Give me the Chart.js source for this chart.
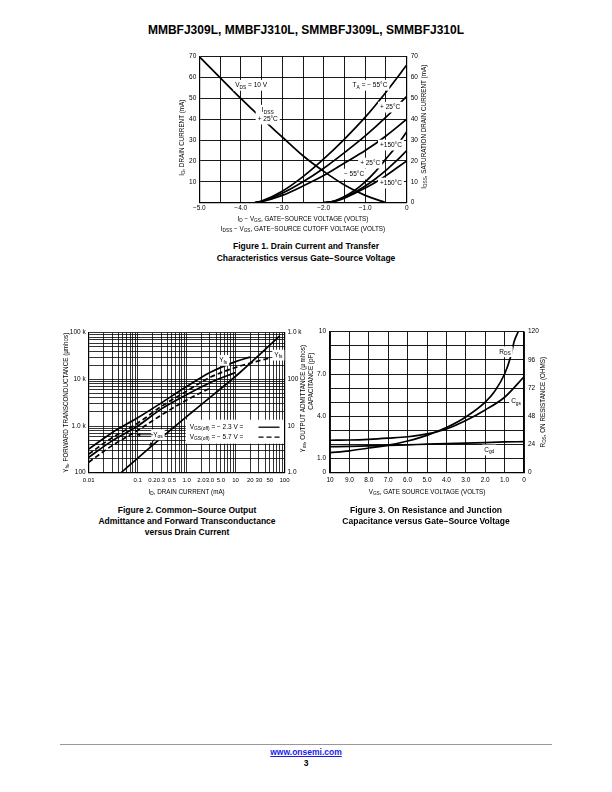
<!DOCTYPE html>
<html>
<head>
<meta charset="utf-8">
<title>MMBFJ309L page 3</title>
<script src="https://cdn.jsdelivr.net/npm/chart.js@4.4.1/dist/chart.umd.min.js"></script>
<style>
  body { margin: 0; background: #fff; }
  #page { position: relative; width: 612px; height: 792px; font-family: "Liberation Sans", Arial, sans-serif; color: #000; }
  canvas { position: absolute; }
  .txt { position: absolute; text-align: center; font-weight: bold; white-space: nowrap; }
</style>
</head>
<body>
<div id="page">
  <div class="txt" style="left:0;width:612px;top:23px;font-size:12px;">MMBFJ309L, MMBFJ310L, SMMBFJ309L, SMMBFJ310L</div>

  <canvas id="fig1" width="300" height="190" style="left:150px;top:48px"></canvas>
  <div class="txt" style="left:156px;width:300px;top:241px;font-size:8.5px;line-height:11.5px">Figure 1. Drain Current and Transfer<br>Characteristics versus Gate−Source Voltage</div>

  <canvas id="fig2" width="275" height="180" style="left:40px;top:322px"></canvas>
  <canvas id="fig3" width="264" height="180" style="left:296px;top:322px"></canvas>
  <div class="txt" style="left:37px;width:300px;top:505px;font-size:8.5px;line-height:11px">Figure 2. Common−Source Output<br>Admittance and Forward Transconductance<br>versus Drain Current</div>
  <div class="txt" style="left:276px;width:300px;top:505px;font-size:8.5px;line-height:11px">Figure 3. On Resistance and Junction<br>Capacitance versus Gate−Source Voltage</div>

  <div style="position:absolute;left:60px;width:492px;top:744px;border-top:1px solid #999"></div>
  <div class="txt" style="left:0;width:612px;top:747px;font-size:8.5px;color:#1a1aee;text-decoration:underline">www.onsemi.com</div>
  <div class="txt" style="left:0;width:612px;top:758px;font-size:8.5px">3</div>
</div>

<script>
// ---- Figure 1: drain current / transfer characteristics (mA vs V) ----
const vgs1   = [-3.66, -3.5, -3.0, -2.5, -2.0, -1.5, -1.0, -0.5, 0];
const idM55a = [0, 0.8, 5.5, 12.5, 21, 30.5, 41, 53, 66];
const id25a  = [0, 0.6, 4.5, 10, 16.5, 24, 32, 41, 51];
const id150a = [0, 0.5, 3.5, 8, 13, 19, 25, 32, 40];
const vgs2   = [-2.0, -1.75, -1.5, -1.25, -1.0, -0.75, -0.5, -0.25, 0];
const idM55b = [0, 0.8, 3, 6, 10, 15, 21, 27, 34];
const id25b  = [0, 0.7, 2.5, 5, 8, 11.5, 15.5, 20, 25];
const id150b = [0, 0.6, 2.2, 4.5, 7, 9.8, 13, 16.5, 20];
const vgsOff = [-5.0, -4.5, -4.0, -3.5, -3.0, -2.5, -2.0, -1.5, -1.0, -0.5];
const idss   = [70, 60, 50, 40.5, 31.5, 22.5, 15, 8.5, 3.5, 0];

// ---- Figure 2: Yfs / Yos vs drain current (log-log) ----
const idA  = [0.01, 0.03, 0.1, 0.3, 1, 3, 10, 20];
const yfsA = [320, 720, 1500, 3100, 7000, 14000, 24000, 30000];
const idB  = [0.01, 0.03, 0.1, 0.3, 1, 3, 10, 30, 50];
const yfsB = [250, 560, 1150, 2600, 5600, 11000, 18000, 25000, 28500];
const idC  = [0.01, 0.03, 0.1, 0.3, 1, 3, 10];
const yfsC = [213, 480, 1000, 2300, 4700, 8500, 14000];
const idD  = [0.01, 0.03, 0.1, 0.3, 1, 3];
const yosD = [1.68, 3.8, 8.0, 17, 36, 65];
const idE  = [0.046, 0.18, 1.3, 12, 80];
const yosE = [1.0, 3.5, 20, 137, 850];
const xTickVals2 = [0.01, 0.1, 0.2, 0.3, 0.5, 1, 2, 3, 5, 10, 20, 30, 50, 100];
const xTickText2 = ['0.01', '0.1', '0.2', '0.3', '0.5', '1.0', '2.0', '3.0', '5.0', '10', '20', '30', '50', '100'];
const yTickVals2 = [100, 1000, 10000, 100000];
const yTickText2 = ['100', '1.0 k', '10 k', '100 k'];
const y2TickVals2 = [1, 10, 100, 1000];
const y2TickText2 = ['1.0', '10', '100', '1.0 k'];

// ---- Figure 3: capacitance (pF) and RDS (ohms) vs VGS ----
const vgs3 = [10, 9, 8, 7, 6, 5, 4, 3, 2, 1, 0];
const cgs  = [2.3, 2.32, 2.37, 2.45, 2.55, 2.75, 3.1, 3.7, 4.45, 5.35, 6.8];
const cgd  = [1.85, 1.87, 1.9, 1.94, 1.98, 2.02, 2.06, 2.1, 2.14, 2.18, 2.2];
const vgsR = [10, 9, 8, 7, 6, 5, 4, 3, 2, 1.5, 1, 0.7, 0.5, 0.3];
const rds  = [17, 18.6, 21, 23.4, 27, 31.8, 38.4, 47.4, 60, 69.6, 84, 98, 112, 120];

const FAM = '"Liberation Sans", Arial, Helvetica, sans-serif';
Chart.defaults.font.family = FAM;
Chart.defaults.color = '#000';

// text with simple _{sub} markup
function pieces(str) {
  const out = [];
  const re = /_\{([^}]*)\}/g;
  let last = 0, m;
  while ((m = re.exec(str)) !== null) {
    if (m.index > last) out.push({ t: str.slice(last, m.index), sub: false });
    out.push({ t: m[1], sub: true });
    last = re.lastIndex;
  }
  if (last < str.length) out.push({ t: str.slice(last), sub: false });
  return out;
}
function fontOf(size, sub) { return (sub ? size * 0.75 : size) + 'px ' + FAM; }
function measure(ctx, str, size) {
  let w = 0;
  pieces(str).forEach(p => { ctx.font = fontOf(size, p.sub); w += ctx.measureText(p.t).width; });
  return w;
}
function rich(ctx, str, x, y, size, align) {
  const w = measure(ctx, str, size);
  let cx = align === 'center' ? x - w / 2 : align === 'right' ? x - w : x;
  ctx.textAlign = 'left';
  ctx.textBaseline = 'middle';
  pieces(str).forEach(p => {
    ctx.font = fontOf(size, p.sub);
    ctx.fillText(p.t, cx, p.sub ? y + size * 0.3 : y);
    cx += ctx.measureText(p.t).width;
  });
}
function rot(ctx, str, x, y, size) {
  ctx.save();
  ctx.translate(x, y);
  ctx.rotate(-Math.PI / 2);
  rich(ctx, str, 0, 0, size, 'center');
  ctx.restore();
}
function boxed(ctx, lines, x, y, size) {
  const lh = size * 1.35;
  let w = 0;
  lines.forEach(s => { w = Math.max(w, measure(ctx, s, size)); });
  const h = lh * lines.length;
  ctx.fillStyle = '#fff';
  ctx.fillRect(x - w / 2 - 2, y - h / 2 - 1, w + 4, h + 2);
  ctx.fillStyle = '#000';
  lines.forEach((s, i) => rich(ctx, s, x, y - h / 2 + lh * (i + 0.5), size, 'center'));
}
function arrow(ctx, x0, y0, x1, y1) {
  const a = Math.atan2(y1 - y0, x1 - x0);
  ctx.lineWidth = 0.8;
  ctx.beginPath(); ctx.moveTo(x0, y0); ctx.lineTo(x1, y1); ctx.stroke();
  ctx.beginPath();
  ctx.moveTo(x1, y1);
  ctx.lineTo(x1 - 4 * Math.cos(a - 0.4), y1 - 4 * Math.sin(a - 0.4));
  ctx.lineTo(x1 - 4 * Math.cos(a + 0.4), y1 - 4 * Math.sin(a + 0.4));
  ctx.closePath(); ctx.fill();
}
function textLayer(draw) {
  return {
    id: 'textLayer',
    afterDraw(chart) {
      const ctx = chart.ctx;
      ctx.save();
      ctx.fillStyle = '#000';
      ctx.strokeStyle = '#000';
      draw(chart, ctx);
      ctx.restore();
    }
  };
}

function line(xs, ys, dash, axis) {
  return {
    data: xs.map((x, i) => ({ x: x, y: ys[i] })),
    showLine: true,
    borderColor: '#000',
    borderWidth: 1.7,
    borderDash: dash ? [5, 3] : [],
    pointRadius: 0,
    fill: false,
    tension: 0.4,
    cubicInterpolationMode: 'monotone',
    yAxisID: axis || 'y'
  };
}
function fitY(w) { return s => { s.width = w; s.paddingTop = 0; s.paddingBottom = 0; }; }
function fitX(h) { return s => { s.height = h; s.paddingLeft = 0; s.paddingRight = 0; }; }
function setTicks(vals) { return s => { s.ticks = vals.map(v => ({ value: v })); }; }
function pick(vals, texts) {
  return v => {
    const i = vals.findIndex(t => Math.abs(t - v) < t * 1e-6 + 1e-12);
    return i >= 0 ? texts[i] : '';
  };
}
function decadeGrid(lo, hi) {
  const out = [];
  for (let e = lo; e < hi; e++) {
    for (let k = 1; k < 10; k++) out.push(Number((k * Math.pow(10, e)).toPrecision(3)));
  }
  out.push(Math.pow(10, hi));
  return out;
}

const GRID = { color: '#000', lineWidth: 0.9, drawTicks: false };
const BORDER = { color: '#000', width: 1.2 };
const TICKF = { size: 6.5 };
const base = {
  responsive: false,
  animation: false,
  devicePixelRatio: 1,
  plugins: { legend: { display: false }, tooltip: { enabled: false } }
};
const fmtV = v => (v === 0 ? '0' : v.toFixed(1).replace('-', '−'));

// ---------------- Figure 1 ----------------
new Chart(document.getElementById('fig1'), {
  type: 'scatter',
  data: {
    datasets: [
      line(vgs1, idM55a), line(vgs1, id25a), line(vgs1, id150a),
      line(vgs2, idM55b), line(vgs2, id25b), line(vgs2, id150b),
      line(vgsOff, idss, false, 'y2')
    ]
  },
  options: Object.assign({}, base, {
    layout: { padding: { top: 8.7, left: 0, right: 0, bottom: 0 } },
    scales: {
      x: {
        type: 'linear', min: -5, max: 0, grid: GRID, border: BORDER, afterFit: fitX(35.3),
        ticks: { stepSize: 0.5, padding: 2, font: TICKF, maxRotation: 0, autoSkip: false,
          callback: v => (Number.isInteger(v) ? fmtV(v) : '') }
      },
      y: {
        type: 'linear', position: 'left', min: 0, max: 70, grid: GRID, border: BORDER, afterFit: fitY(49.3),
        ticks: { stepSize: 10, padding: 3, font: TICKF, autoSkip: false, callback: v => (v === 0 ? '' : String(v)) }
      },
      y2: {
        type: 'linear', position: 'right', min: 0, max: 70,
        grid: { drawOnChartArea: false, drawTicks: false }, border: BORDER, afterFit: fitY(43.3),
        ticks: { stepSize: 10, padding: 4, font: TICKF, autoSkip: false, callback: v => String(v) }
      }
    }
  }),
  plugins: [textLayer((chart, ctx) => {
    const a = chart.chartArea, sx = chart.scales.x, sy = chart.scales.y;
    const px = v => sx.getPixelForValue(v), py = v => sy.getPixelForValue(v);
    const cy = (a.top + a.bottom) / 2, cx = (a.left + a.right) / 2;
    rot(ctx, 'I_{D}, DRAIN CURRENT (mA)', a.left - 17, cy + 8, 6.3);
    rot(ctx, 'I_{DSS}, SATURATION DRAIN CURRENT (mA)', a.right + 17.5, cy - 3, 6.3);
    rich(ctx, 'I_{D} − V_{GS}, GATE−SOURCE VOLTAGE (VOLTS)', cx, a.bottom + 16.6, 6.3, 'center');
    rich(ctx, 'I_{DSS} − V_{GS}, GATE−SOURCE CUTOFF VOLTAGE (VOLTS)', cx, a.bottom + 26.6, 6.3, 'center');
    boxed(ctx, ['V_{DS} = 10 V'], px(-3.75), py(56.3), 6.5);
    boxed(ctx, ['I_{DSS}', '+ 25°C'], px(-3.35), py(42.2), 6.5);
    boxed(ctx, ['T_{A} = − 55°C'], px(-0.885), py(56.3), 6.5);
    boxed(ctx, ['+ 25°C'], px(-0.4), py(45.8), 6.5);
    boxed(ctx, ['+150°C'], px(-0.38), py(27.6), 6.5);
    boxed(ctx, ['+ 25°C'], px(-0.88), py(19), 6.5);
    boxed(ctx, ['− 55°C'], px(-1.27), py(13.7), 6.5);
    boxed(ctx, ['+150°C'], px(-0.38), py(9.4), 6.5);
  })]
});

// ---------------- Figure 2 ----------------
new Chart(document.getElementById('fig2'), {
  type: 'scatter',
  data: {
    datasets: [
      line(idA, yfsA), line(idB, yfsB, true), line(idC, yfsC),
      line(idD, yosD, true, 'y2'), line(idE, yosE, false, 'y2')
    ]
  },
  options: Object.assign({}, base, {
    layout: { padding: { top: 10.7, left: 0, right: 0, bottom: 0 } },
    scales: {
      x: {
        type: 'logarithmic', min: 0.01, max: 100, grid: { color: '#000', lineWidth: 0.8, drawTicks: false },
        border: BORDER, afterFit: fitX(29.3), afterBuildTicks: setTicks(decadeGrid(-2, 2)),
        ticks: { padding: 4, font: { size: 6 }, maxRotation: 0, minRotation: 0, autoSkip: false, callback: pick(xTickVals2, xTickText2) }
      },
      y: {
        type: 'logarithmic', position: 'left', min: 100, max: 100000,
        grid: { color: '#000', lineWidth: 0.8, drawTicks: false }, border: BORDER,
        afterFit: fitY(48.7), afterBuildTicks: setTicks(decadeGrid(2, 5)),
        ticks: { padding: 3, font: TICKF, autoSkip: false, callback: pick(yTickVals2, yTickText2) }
      },
      y2: {
        type: 'logarithmic', position: 'right', min: 1, max: 1000,
        grid: { drawOnChartArea: false, drawTicks: false }, border: BORDER,
        afterFit: fitY(30.5), afterBuildTicks: setTicks(y2TickVals2),
        ticks: { padding: 3, font: TICKF, autoSkip: false, callback: pick(y2TickVals2, y2TickText2) }
      }
    }
  }),
  plugins: [textLayer((chart, ctx) => {
    const a = chart.chartArea, sx = chart.scales.x, sy = chart.scales.y;
    const px = v => sx.getPixelForValue(v), py = v => sy.getPixelForValue(v);
    const cy = (a.top + a.bottom) / 2, cx = (a.left + a.right) / 2;
    rot(ctx, 'Y_{fs}, FORWARD TRANSCONDUCTANCE (μmhos)', a.left - 22.7, cy, 6.3);
    rot(ctx, 'Y_{os}, OUTPUT ADMITTANCE (μ mhos)', a.right + 18.5, cy - 4, 6.3);
    rich(ctx, 'I_{D}, DRAIN CURRENT (mA)', cx, a.bottom + 19.3, 6.3, 'center');
    boxed(ctx, ['Y_{fs}'], px(5.6), py(25500), 6.5);
    boxed(ctx, ['Y_{fs}'], px(75), py(33000), 6.5);
    boxed(ctx, ['Y_{os}'], px(0.26), py(650), 6.5);
    arrow(ctx, px(0.205), py(650), px(0.095), py(650));
    arrow(ctx, px(0.22), py(520), px(0.175), py(370));
    // legend box
    const lx = a.left + 99, ly = a.top + 87;
    ctx.fillStyle = '#fff';
    ctx.fillRect(lx - 2, ly, a.right - lx + 1.5, 24);
    ctx.fillStyle = '#000';
    rich(ctx, 'V_{GS(off)} = − 2.3 V =', lx + 2, ly + 7.5, 6.5, 'left');
    rich(ctx, 'V_{GS(off)} = − 5.7 V =', lx + 2, ly + 17.5, 6.5, 'left');
    ctx.lineWidth = 1.3;
    ctx.beginPath(); ctx.moveTo(a.right - 26, ly + 7.5); ctx.lineTo(a.right - 5, ly + 7.5); ctx.stroke();
    ctx.setLineDash([5, 3]);
    ctx.beginPath(); ctx.moveTo(a.right - 26, ly + 17.5); ctx.lineTo(a.right - 5, ly + 17.5); ctx.stroke();
    ctx.setLineDash([]);
  })]
});

// ---------------- Figure 3 ----------------
new Chart(document.getElementById('fig3'), {
  type: 'scatter',
  data: {
    datasets: [line(vgs3, cgs), line(vgs3, cgd), line(vgsR, rds, false, 'y2')]
  },
  options: Object.assign({}, base, {
    layout: { padding: { top: 9.7, left: 0, right: 0, bottom: 0 } },
    scales: {
      x: {
        type: 'linear', reverse: true, min: 0, max: 10, grid: GRID, border: BORDER, afterFit: fitX(29.3),
        ticks: { stepSize: 1, padding: 4, font: TICKF, maxRotation: 0, autoSkip: false,
          callback: v => (v === 10 ? '10' : fmtV(v)) }
      },
      y: {
        type: 'linear', position: 'left', min: 0, max: 10, grid: GRID, border: BORDER, afterFit: fitY(34),
        ticks: { stepSize: 1, padding: 4, font: TICKF, autoSkip: false,
          callback: v => (v === 10 ? '10' : v === 0 ? '0' : (v === 7 || v === 4 || v === 1) ? v.toFixed(1) : '') }
      },
      y2: {
        type: 'linear', position: 'right', min: 0, max: 120,
        grid: { drawOnChartArea: false, drawTicks: false }, border: BORDER, afterFit: fitY(36),
        ticks: { stepSize: 24, padding: 4, font: TICKF, autoSkip: false, callback: v => String(v) }
      }
    }
  }),
  plugins: [textLayer((chart, ctx) => {
    const a = chart.chartArea, sx = chart.scales.x, sy = chart.scales.y;
    const px = v => sx.getPixelForValue(v), py = v => sy.getPixelForValue(v);
    const cy = (a.top + a.bottom) / 2, cx = (a.left + a.right) / 2;
    rot(ctx, 'CAPACITANCE (pF)', a.left - 19, cy - 21, 6.3);
    rot(ctx, 'R_{DS}, ON RESISTANCE (OHMS)', a.right + 19, cy, 6.3);
    rich(ctx, 'V_{GS}, GATE SOURCE VOLTAGE (VOLTS)', cx, a.bottom + 19.3, 6.3, 'center');
    boxed(ctx, ['R_{DS}'], px(0.98), py(8.58), 6.5);
    boxed(ctx, ['C_{gs}'], px(0.41), py(5.04), 6.5);
    boxed(ctx, ['C_{gd}'], px(1.79), py(1.61), 6.5);
  })]
});
</script>
</body>
</html>
